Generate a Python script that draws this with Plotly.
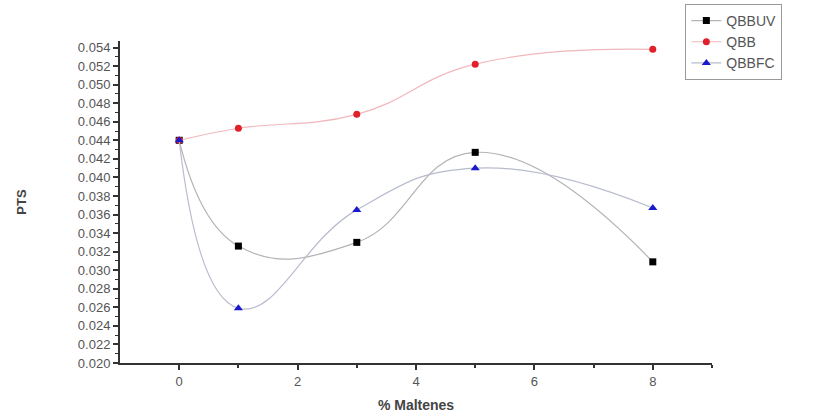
import plotly.graph_objects as go

x_vals = [0, 1, 3, 5, 8]
qbbuv = [0.0440, 0.0326, 0.0330, 0.0427, 0.0309]
qbb = [0.0440, 0.0453, 0.0468, 0.0522, 0.0538]
qbbfc = [0.0440, 0.0259, 0.0365, 0.0410, 0.0367]

y_ticks = [0.020 + 0.002 * i for i in range(18)]
y_labels = ["%.3f" % v for v in y_ticks]
x_ticks = [0, 2, 4, 6, 8]

fig = go.Figure()
fig.add_trace(go.Scatter(
    x=x_vals, y=qbbuv, name="QBBUV", mode="lines+markers",
    line=dict(color="#b4b4b4", width=1.2, shape="spline", smoothing=1.3),
    marker=dict(symbol="square", size=7, color="#000000")))
fig.add_trace(go.Scatter(
    x=x_vals, y=qbb, name="QBB", mode="lines+markers",
    line=dict(color="#f0b8bc", width=1.2, shape="spline", smoothing=1.3),
    marker=dict(symbol="circle", size=7, color="#e0202a")))
fig.add_trace(go.Scatter(
    x=x_vals, y=qbbfc, name="QBBFC", mode="lines+markers",
    line=dict(color="#b8bccc", width=1.2, shape="spline", smoothing=1.3),
    marker=dict(symbol="triangle-up", size=8, color="#1a1acc")))

axis_font = dict(family="Liberation Sans, Arial, sans-serif", size=13, color="#555555")

fig.update_layout(
    width=817, height=417,
    margin=dict(l=120, r=105, t=41, b=54, autoexpand=False),
    paper_bgcolor="white", plot_bgcolor="white",
    showlegend=True,
    legend=dict(x=0.955, y=1.115, xanchor="left", yanchor="top",
                bgcolor="white", bordercolor="#999999", borderwidth=1,
                font=dict(family="Liberation Sans, Arial, sans-serif", size=14, color="#555555"),
                tracegroupgap=0, itemwidth=30, entrywidth=95, entrywidthmode="pixels"),
    xaxis=dict(range=[-1, 9], tickvals=x_ticks, ticktext=[str(v) for v in x_ticks],
               automargin=False,
               showgrid=False, zeroline=False, showline=True, linecolor="#333333", linewidth=2,
               ticks="outside", ticklen=5, tickwidth=2, tickcolor="#333333",
               minor=dict(tickvals=[1, 3, 5, 7, 9], ticks="outside", ticklen=3, tickwidth=1.5, tickcolor="#333333"),
               tickfont=axis_font,
               title=dict(text="<b>% Maltenes</b>", font=dict(family="Liberation Sans, Arial, sans-serif", size=14, color="#444444"), standoff=13)),
    yaxis=dict(range=[0.020, 0.0547], tickvals=y_ticks, ticktext=y_labels,
               automargin=False,
               showgrid=False, zeroline=False, showline=True, linecolor="#333333", linewidth=2,
               ticks="outside", ticklen=5, tickwidth=1.5, tickcolor="#333333",
               minor=dict(tickvals=[0.021 + 0.002 * i for i in range(17)], ticks="outside", ticklen=3, tickwidth=1, tickcolor="#333333"),
               tickfont=axis_font,
               title=dict(text="<b>PTS</b>", font=dict(family="Liberation Sans, Arial, sans-serif", size=13, color="#444444"), standoff=48)),
)

fig.write_html("out.html")
